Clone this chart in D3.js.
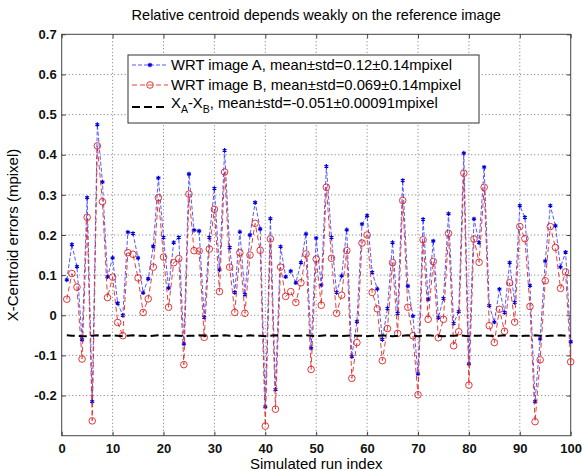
<!DOCTYPE html>
<html>
<head>
<meta charset="utf-8">
<script src="https://cdn.jsdelivr.net/npm/d3@7"></script>
<style>
body { margin:0; background:#fff; }
text { font-family: Arial, "Liberation Sans", Helvetica, sans-serif; }
</style>
</head>
<body>
<div id="chart"></div>
<script>
//=====================data=========================
const runIdx = d3.range(1, 101);

const errA = [0.088, 0.176, 0.121, -0.061, 0.293, -0.215, 0.475, 0.332, 0.096, 0.143,
    0.030, 0.000, 0.207, 0.204, 0.143, 0.056, 0.091, 0.172, 0.342, 0.194,
    0.068, 0.181, 0.194, -0.071, 0.352, 0.212, 0.210, -0.005, 0.194, 0.316,
    0.113, 0.411, 0.169, 0.057, 0.208, 0.052, 0.200, 0.281, 0.215, -0.228,
    0.241, -0.185, 0.171, 0.096, 0.110, 0.081, 0.131, 0.203, -0.082, 0.192,
    0.075, 0.371, 0.194, 0.057, 0.098, 0.213, -0.103, -0.016, 0.227, 0.248,
    0.107, 0.066, -0.060, 0.017, 0.181, 0.005, 0.336, 0.073, -0.002, -0.146,
    0.239, 0.040, 0.185, -0.006, 0.042, 0.253, -0.020, 0.009, 0.404, -0.121,
    0.240, 0.181, 0.369, 0.024, -0.017, 0.065, 0.007, 0.131, 0.032, 0.273,
    0.244, 0.074, -0.215, -0.059, 0.135, 0.273, 0.223, 0.120, 0.157, -0.066];

const errB = [0.040, 0.104, 0.070, -0.109, 0.244, -0.263, 0.422, 0.283, 0.044, 0.095,
    -0.018, -0.051, 0.156, 0.152, 0.093, 0.007, 0.041, 0.120, 0.293, 0.145,
    0.020, 0.131, 0.141, -0.123, 0.302, 0.161, 0.160, -0.055, 0.165, 0.264,
    0.059, 0.357, 0.120, 0.007, 0.156, 0.005, 0.150, 0.229, 0.162, -0.276,
    0.190, -0.234, 0.120, 0.047, 0.059, 0.032, 0.081, 0.153, -0.135, 0.140,
    0.025, 0.319, 0.142, 0.005, 0.050, 0.161, -0.157, -0.068, 0.180, 0.200,
    0.057, 0.016, -0.113, -0.033, 0.131, -0.045, 0.286, 0.020, -0.051, -0.198,
    0.188, -0.010, 0.134, -0.056, -0.010, 0.204, -0.076, -0.041, 0.354, -0.174,
    0.190, 0.132, 0.319, -0.026, -0.068, 0.015, -0.040, 0.081, -0.017, 0.221,
    0.191, 0.022, -0.265, -0.111, 0.086, 0.221, 0.169, 0.067, 0.108, -0.116];

const errDiff = [-0.050, -0.051, -0.051, -0.052, -0.052, -0.051, -0.050, -0.051, -0.051, -0.050,
    -0.051, -0.052, -0.051, -0.050, -0.051, -0.051, -0.052, -0.051, -0.050, -0.051,
    -0.051, -0.050, -0.051, -0.052, -0.051, -0.051, -0.050, -0.051, -0.052, -0.051,
    -0.051, -0.050, -0.051, -0.051, -0.052, -0.051, -0.050, -0.051, -0.051, -0.052,
    -0.051, -0.050, -0.051, -0.051, -0.052, -0.051, -0.051, -0.050, -0.051, -0.052,
    -0.051, -0.050, -0.051, -0.051, -0.052, -0.051, -0.050, -0.051, -0.051, -0.052,
    -0.051, -0.051, -0.050, -0.051, -0.052, -0.051, -0.051, -0.050, -0.051, -0.052,
    -0.051, -0.050, -0.051, -0.051, -0.052, -0.051, -0.051, -0.050, -0.051, -0.052,
    -0.051, -0.051, -0.050, -0.051, -0.052, -0.051, -0.050, -0.051, -0.051, -0.052,
    -0.051, -0.051, -0.050, -0.051, -0.052, -0.051, -0.051, -0.050, -0.051, -0.051];

const xTicks = d3.range(0, 101, 10);
const yTicks = [-0.2, -0.1, 0, 0.1, 0.2, 0.3, 0.4, 0.5, 0.6, 0.7];

const legendLabels = ['WRT image A, mean\u00b1std=0.12\u00b10.14mpixel',
    'WRT image B, mean\u00b1std=0.069\u00b10.14mpixel'];

//=====================plot size=========================
var width = 582, height = 471;
var margin = {top: 34.3, bottom: 35.3, left: 61.7, right: 11.3};

var svg = d3.select('#chart')
    .append('svg')
    .attr('width', width)
    .attr('height', height);

var x = d3.scaleLinear().domain([0, 100]).range([margin.left, width - margin.right]);
var y = d3.scaleLinear().domain([-0.3, 0.7]).range([height - margin.bottom, margin.top]);

//=====================grid=========================
var grid = svg.append('g');
grid.selectAll('.gx')
    .data(xTicks.slice(1, -1))
    .enter()
    .append('line')
    .attr('x1', d => x(d)).attr('x2', d => x(d))
    .attr('y1', y(0.7)).attr('y2', y(-0.3))
    .attr('stroke', '#555').attr('stroke-width', 0.8)
    .attr('stroke-dasharray', '1,2.5');
grid.selectAll('.gy')
    .data(yTicks.filter(d => d < 0.7))
    .enter()
    .append('line')
    .attr('x1', x(0)).attr('x2', x(100))
    .attr('y1', d => y(d)).attr('y2', d => y(d))
    .attr('stroke', '#555').attr('stroke-width', 0.8)
    .attr('stroke-dasharray', '1,2.5');

//=====================axes=========================
var tickFont = g => g.selectAll('text')
    .style('font-size', '13px').style('font-weight', 'bold').attr('fill', '#111');

svg.append('g')
    .attr('transform', 'translate(0,' + y(-0.3) + ')')
    .call(d3.axisBottom(x).tickValues(xTicks).tickSizeInner(-4).tickSizeOuter(0).tickPadding(8))
    .call(g => g.select('.domain').remove())
    .call(g => g.selectAll('line').attr('stroke', '#444'))
    .call(tickFont);
svg.append('g')
    .attr('transform', 'translate(0,' + y(0.7) + ')')
    .call(d3.axisTop(x).tickValues(xTicks).tickSizeInner(-4).tickSizeOuter(0).tickFormat(''))
    .call(g => g.select('.domain').remove())
    .call(g => g.selectAll('line').attr('stroke', '#444'));
svg.append('g')
    .attr('transform', 'translate(' + x(0) + ',0)')
    .call(d3.axisLeft(y).tickValues(yTicks).tickSizeInner(-4).tickSizeOuter(0).tickPadding(5)
        .tickFormat(d => d3.format('.1f')(d).replace('0.0', '0').replace('\u22120', '-0')))
    .call(g => g.select('.domain').remove())
    .call(g => g.selectAll('line').attr('stroke', '#444'))
    .call(tickFont);
svg.append('g')
    .attr('transform', 'translate(' + x(100) + ',0)')
    .call(d3.axisRight(y).tickValues(yTicks).tickSizeInner(-4).tickSizeOuter(0).tickFormat(''))
    .call(g => g.select('.domain').remove())
    .call(g => g.selectAll('line').attr('stroke', '#444'));

svg.append('rect')
    .attr('x', x(0)).attr('y', y(0.7))
    .attr('width', x(100) - x(0)).attr('height', y(-0.3) - y(0.7))
    .attr('fill', 'none').attr('stroke', '#444').attr('stroke-width', 1);

//=====================series=========================
var line = d3.line().x((d, i) => x(runIdx[i])).y(d => y(d));

svg.append('path')
    .datum(errA)
    .attr('d', line)
    .attr('fill', 'none').attr('stroke', '#4646ff').attr('stroke-width', 0.9)
    .attr('stroke-dasharray', '4,2');
svg.append('g').selectAll('path')
    .data(errA)
    .enter()
    .append('path')
    .attr('transform', (d, i) => 'translate(' + x(runIdx[i]) + ',' + y(d) + ')')
    .attr('d', d3.symbol(d3.symbolAsterisk, 14))
    .attr('fill', 'none').attr('stroke', '#0000e0').attr('stroke-width', 1.2);

svg.append('path')
    .datum(errB)
    .attr('d', line)
    .attr('fill', 'none').attr('stroke', '#e02828').attr('stroke-width', 0.9)
    .attr('stroke-dasharray', '5,3');
svg.append('g').selectAll('circle')
    .data(errB)
    .enter()
    .append('circle')
    .attr('cx', (d, i) => x(runIdx[i]))
    .attr('cy', d => y(d))
    .attr('r', 3.3)
    .attr('fill', 'none').attr('stroke', '#e02020').attr('stroke-width', 0.9);

svg.append('path')
    .datum(errDiff)
    .attr('d', line)
    .attr('fill', 'none').attr('stroke', '#000').attr('stroke-width', 2)
    .attr('stroke-dasharray', '8,4');

//=====================legend=========================
var lg = svg.append('g');
lg.append('rect')
    .attr('x', 128).attr('y', 55).attr('width', 351).attr('height', 68)
    .attr('fill', '#fff').attr('stroke', '#333').attr('stroke-width', 1);
var rowY = [65, 85, 104];
// A
lg.append('line').attr('x1', 132).attr('x2', 168).attr('y1', rowY[0]).attr('y2', rowY[0])
    .attr('stroke', '#4646ff').attr('stroke-width', 0.9).attr('stroke-dasharray', '4,2');
lg.append('path').attr('transform', 'translate(150,' + rowY[0] + ')')
    .attr('d', d3.symbol(d3.symbolAsterisk, 14))
    .attr('fill', 'none').attr('stroke', '#0000e0').attr('stroke-width', 1.2);
// B
lg.append('line').attr('x1', 132).attr('x2', 168).attr('y1', rowY[1]).attr('y2', rowY[1])
    .attr('stroke', '#e02828').attr('stroke-width', 0.9).attr('stroke-dasharray', '5,3');
lg.append('circle').attr('cx', 150).attr('cy', rowY[1]).attr('r', 3.3)
    .attr('fill', 'none').attr('stroke', '#e02020').attr('stroke-width', 0.9);
// diff
lg.append('line').attr('x1', 132).attr('x2', 168).attr('y1', rowY[2] + 3).attr('y2', rowY[2] + 3)
    .attr('stroke', '#000').attr('stroke-width', 2).attr('stroke-dasharray', '8,4');

lg.selectAll('.lt')
    .data(legendLabels)
    .enter()
    .append('text')
    .attr('x', 171).attr('y', (d, i) => rowY[i] + 5)
    .style('font-size', '14.8px').attr('fill', '#000')
    .text(d => d);
var t3 = lg.append('text')
    .attr('x', 171).attr('y', rowY[2] + 4)
    .style('font-size', '14.8px').attr('fill', '#000');
t3.append('tspan').text('X');
t3.append('tspan').attr('dy', 5).style('font-size', '10.5px').text('A');
t3.append('tspan').attr('dy', -5).text('-X');
t3.append('tspan').attr('dy', 5).style('font-size', '10.5px').text('B');
t3.append('tspan').attr('dy', -5).text(', mean\u00b1std=-0.051\u00b10.00091mpixel');

//=====================labels=========================
svg.append('text')
    .attr('x', (x(0) + x(100)) / 2).attr('y', 20)
    .attr('text-anchor', 'middle')
    .style('font-size', '14.5px')
    .text('Relative centroid depends weakly on the reference image');
svg.append('text')
    .attr('x', (x(0) + x(100)) / 2).attr('y', 469)
    .attr('text-anchor', 'middle')
    .style('font-size', '15px')
    .text('Simulated run index');
svg.append('text')
    .attr('transform', 'translate(18,' + (y(0.7) + y(-0.3)) / 2 + ') rotate(-90)')
    .attr('text-anchor', 'middle')
    .style('font-size', '15px')
    .text('X-Centroid errors (mpixel)');
</script>
</body>
</html>
